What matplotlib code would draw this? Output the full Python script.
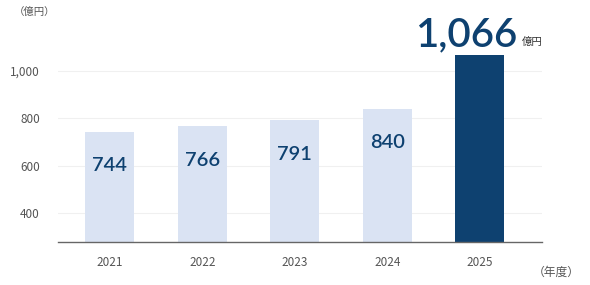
import matplotlib.pyplot as plt
import numpy as np

plt.rcParams['font.family'] = ['Noto Sans CJK JP', 'DejaVu Sans']

years = ["2021", "2022", "2023", "2024", "2025"]
values = [744, 766, 791, 840, 1066]
labels = ["744", "766", "791", "840", "1,066"]
yticks = [400, 600, 800, 1000]
ytick_labels = ["400", "600", "800", "1,000"]

light = "#dae3f3"
dark = "#0e4170"
px = 72 / 100  # points per pixel

fig = plt.figure(figsize=(5.9, 2.85), dpi=100)
ax = fig.add_axes([0.0983, 0.1498, 0.8203, 0.7253])

x = np.arange(len(years))
colors = [light] * (len(years) - 1) + [dark]
ax.bar(x, values, width=0.53, color=colors, zorder=2)

ax.set_xlim(-0.56, 4.67)
ax.set_ylim(275, 1150)
ax.set_yticks(yticks)
ax.set_yticklabels(ytick_labels)
ax.set_xticks(x)
ax.set_xticklabels(years)
ax.tick_params(axis='both', length=0, labelsize=8.5, labelcolor="#555555")
ax.tick_params(axis='y', pad=13)
ax.tick_params(axis='x', pad=10)
ax.grid(axis='y', color="#f0f0f0", linewidth=0.8, zorder=0)

for side in ["top", "right", "left"]:
    ax.spines[side].set_visible(False)
ax.spines["bottom"].set_color("#666666")
ax.spines["bottom"].set_linewidth(1.0)

# value labels inside the light bars
for i in range(len(years) - 1):
    ax.annotate(labels[i], (x[i], values[i]), xytext=(0, -34 * px),
                textcoords="offset points", ha="center", va="center",
                fontsize=14.5, color=dark, fontweight="semibold",
                family=["Lato", "DejaVu Sans"])

# highlighted last value
ax.annotate(labels[-1], (x[-1], values[-1]), xytext=(37 * px, 9 * px),
            textcoords="offset points", ha="right", va="baseline",
            fontsize=29, color=dark, fontweight="semibold",
            family=["Lato", "DejaVu Sans"], annotation_clip=False)
ax.annotate("億円", (x[-1], values[-1]), xytext=(42 * px, 10 * px),
            textcoords="offset points", ha="left", va="baseline",
            fontsize=7.5, color="#333333", annotation_clip=False)

fig.text(14 / 590, 1 - 12 / 285, "（億円）", fontsize=7.5, color="#555555",
         ha="left", va="center")
fig.text(533 / 590, 1 - 272 / 285, "（年度）", fontsize=8.5, color="#555555",
         ha="left", va="center")

fig.savefig("out.png", dpi=100)
